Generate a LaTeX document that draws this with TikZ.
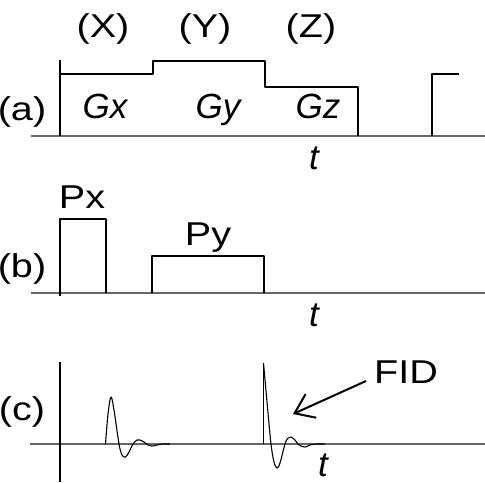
\documentclass[tikz,border=0pt]{standalone}
\usepackage{fontspec}
\setmainfont{Liberation Sans}
\usetikzlibrary{arrows.meta}

\tikzset{
  lbl/.style={anchor=base,font=\fontsize{16.5}{19}\selectfont,inner sep=0pt,xscale=1.2},
  ilbl/.style={anchor=base,font=\fontsize{17.5}{20}\selectfont\itshape,inner sep=0pt},
  axis/.style={black!60,line width=0.6pt},
  trace/.style={black,line width=0.55pt}
}

\begin{document}
\begin{tikzpicture}[x=0.5pt,y=-0.5pt,line join=round,>={Straight Barb[length=9pt,width=13pt]}]
\useasboundingbox (0,0) rectangle (485,482);
% (a) gradient sequence
\draw[axis] (31,136) -- (485,136);
\draw[trace] (60,60) -- (60,136);
\draw[trace] (60,74) -- (153,74) -- (153,61) -- (265,61) -- (265,87) -- (358,87) -- (358,136);
\draw[trace] (432,136) -- (432,74) -- (459,74);
\node[lbl] (X) at (103,37) {(X)};
\node[lbl] (Y) at (205,37) {(Y)};
\node[lbl] (Z) at (311,37) {(Z)};
\node[lbl] (a) at (22,120) {(a)};
\node[ilbl] (Gx) at (105,118) {Gx};
\node[ilbl] (Gy) at (218,118) {Gy};
\node[ilbl] (Gz) at (318,118) {Gz};
\node[ilbl] (ta) at (314,169) {t};
% (b) pulses
\draw[axis] (31,293) -- (485,293);
\draw[trace] (60,296) -- (60,219) -- (106,219) -- (106,293);
\draw[trace] (152,293) -- (152,256) -- (264,256) -- (264,293);
\node[lbl] (Px) at (82,208) {Px};
\node[lbl] (Py) at (208,245) {Py};
\node[lbl] (b) at (22,277) {(b)};
\node[ilbl] (tb) at (314,326) {t};
% (c) signal
\draw[axis] (30,444) -- (485,444);
\draw[trace] (60,362) -- (60,482);
\draw[trace] plot[smooth,tension=0.55] coordinates {(105.5,444) (108,414) (111,397) (114,410) (119,444)
  (122,455) (125.5,457) (129,452) (133,444) (137,440) (140,440) (144,442) (148,445) (152,446)
  (157,445) (162,444) (170,444)};
\draw[trace] (263.5,444) -- (263.5,363);
\draw[trace] plot[smooth,tension=0.55] coordinates {(263.5,363) (267,402) (271,444) (274,462)
  (277,468) (280,463) (285,444) (288,438) (291,437) (295,440) (299,445) (305,447) (310,445)
  (316,444) (325,444)};
\node[lbl] (c) at (22,420) {(c)};
\node[ilbl] (tc) at (323,476) {t};
% FID arrow
\node[lbl] (fid) at (406,383) {FID};
\coordinate (fidtail) at (366,381);
\coordinate (fidtip) at (293,414);
\draw[->,line width=1pt] (fidtail) -- (fidtip);
\end{tikzpicture}
\end{document}
